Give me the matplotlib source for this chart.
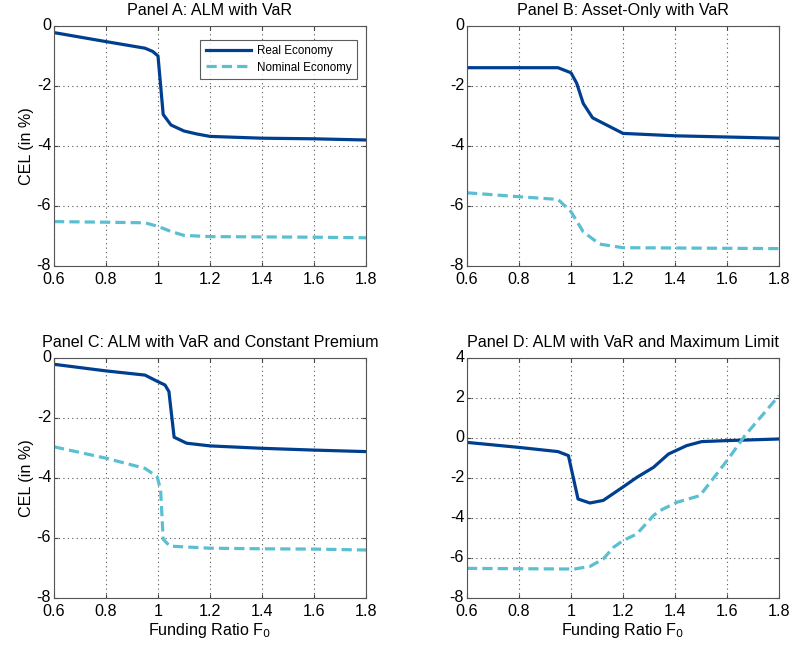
import matplotlib
matplotlib.use("Agg")
import matplotlib.pyplot as plt
import matplotlib.transforms as mtransforms

plt.rcParams["font.family"] = ["Liberation Sans", "DejaVu Sans"]

REAL_COLOR = "#003f8f"
NOM_COLOR = "#5bbfd2"

# Panel A: ALM with VaR
a_real_x = [0.6, 0.8, 0.95, 0.98, 1.0, 1.02, 1.05, 1.1, 1.15, 1.2, 1.4, 1.6, 1.8]
a_real_y = [-0.22, -0.52, -0.74, -0.85, -1.0, -2.95, -3.3, -3.5, -3.6, -3.68, -3.74, -3.76, -3.8]
a_nom_x = [0.6, 0.8, 0.95, 1.0, 1.05, 1.1, 1.2, 1.4, 1.6, 1.8]
a_nom_y = [-6.52, -6.54, -6.56, -6.68, -6.85, -6.98, -7.02, -7.03, -7.04, -7.06]

# Panel B: Asset-Only with VaR
b_real_x = [0.6, 0.8, 0.95, 1.0, 1.022, 1.047, 1.083, 1.2, 1.4, 1.6, 1.8]
b_real_y = [-1.39, -1.39, -1.39, -1.56, -1.91, -2.58, -3.06, -3.58, -3.66, -3.7, -3.74]
b_nom_x = [0.6, 0.8, 0.95, 1.0, 1.047, 1.11, 1.2, 1.4, 1.6, 1.8]
b_nom_y = [-5.56, -5.69, -5.78, -6.19, -6.86, -7.27, -7.39, -7.4, -7.41, -7.42]

# Panel C: ALM with VaR and Constant Premium
c_real_x = [0.6, 0.8, 0.95, 1.0, 1.027, 1.042, 1.062, 1.11, 1.2, 1.4, 1.6, 1.8]
c_real_y = [-0.21, -0.43, -0.57, -0.79, -0.9, -1.12, -2.64, -2.84, -2.93, -3.01, -3.07, -3.12]
c_nom_x = [0.6, 0.8, 0.95, 0.997, 1.01, 1.02, 1.045, 1.2, 1.4, 1.6, 1.8]
c_nom_y = [-2.96, -3.34, -3.68, -3.96, -4.4, -6.04, -6.27, -6.34, -6.36, -6.37, -6.4]

# Panel D: ALM with VaR and Maximum Limit
d_real_x = [0.6, 0.8, 0.95, 0.99, 1.027, 1.073, 1.124, 1.2, 1.253, 1.317, 1.375, 1.445, 1.503, 1.6, 1.8]
d_real_y = [-0.22, -0.47, -0.68, -0.88, -3.05, -3.25, -3.12, -2.45, -1.97, -1.47, -0.8, -0.38, -0.18, -0.13, -0.05]
d_nom_x = [0.6, 0.99, 1.0, 1.073, 1.124, 1.163, 1.2, 1.253, 1.317, 1.342, 1.406, 1.496, 1.6, 1.669, 1.8]
d_nom_y = [-6.52, -6.55, -6.58, -6.42, -6.05, -5.47, -5.13, -4.8, -3.88, -3.63, -3.22, -2.88, -1.13, 0.12, 2.12]

x_ticks = [0.6, 0.8, 1.0, 1.2, 1.4, 1.6, 1.8]
x_ticklabels = ["0.6", "0.8", "1", "1.2", "1.4", "1.6", "1.8"]

panels = [
    ("Panel A: ALM with VaR", a_real_x, a_real_y, a_nom_x, a_nom_y, [0, -2, -4, -6, -8], (-8, 0)),
    ("Panel B: Asset-Only with VaR", b_real_x, b_real_y, b_nom_x, b_nom_y, [0, -2, -4, -6, -8], (-8, 0)),
    ("Panel C: ALM with VaR and Constant Premium", c_real_x, c_real_y, c_nom_x, c_nom_y, [0, -2, -4, -6, -8], (-8, 0)),
    ("Panel D: ALM with VaR and Maximum Limit", d_real_x, d_real_y, d_nom_x, d_nom_y, [4, 2, 0, -2, -4, -6, -8], (-8, 4)),
]

W, H = 791, 652
fig = plt.figure(figsize=(W / 100, H / 100), dpi=100)
positions = [
    (54, 26), (467, 26),
    (54, 358), (467, 358),
]
aw, ah = 312, 240
FS = 11.6
lift = mtransforms.ScaledTranslation(0, 2 / 100, fig.dpi_scale_trans)

for i, (title, rx, ry, nx, ny, yt, ylim) in enumerate(panels):
    left, top = positions[i]
    ax = fig.add_axes([left / W, 1 - (top + ah) / H, aw / W, ah / H])
    ax.plot(rx, ry, color=REAL_COLOR, lw=2.3, solid_joinstyle="round", label="Real Economy")
    ax.plot(nx, ny, color=NOM_COLOR, lw=2.3, ls=(0, (3.2, 1.6)), label="Nominal Economy")
    ax.set_xlim(0.6, 1.8)
    ax.set_ylim(*ylim)
    ax.set_xticks(x_ticks)
    ax.set_xticklabels(x_ticklabels)
    ax.set_yticks(yt)
    ax.set_yticklabels([str(v) for v in yt])
    ax.grid(True, ls=(0, (1, 3)), color="#555555", lw=0.8)
    ax.tick_params(direction="in", length=3, labelsize=FS, top=True, right=True,
                   color="#444444")
    ax.tick_params(axis="x", pad=4)
    ax.tick_params(axis="y", pad=2)
    for lab in ax.get_yticklabels():
        lab.set_transform(lab.get_transform() + lift)
    for s in ax.spines.values():
        s.set_color("#555555")
        s.set_linewidth(0.8)
    ax.set_title(title, fontsize=FS, pad=8)
    if i % 2 == 0:
        ax.set_ylabel("CEL (in %)", fontsize=FS, labelpad=2)
    if i >= 2:
        ax.set_xlabel("Funding Ratio F$_0$", fontsize=FS, labelpad=2)
    if i == 0:
        leg = ax.legend(loc="upper right", fontsize=8.4, frameon=True, fancybox=False,
                        edgecolor="#333333", borderpad=0.45, handlelength=3.9,
                        labelspacing=0.35, handletextpad=0.5,
                        bbox_to_anchor=(0.99, 0.965))
        leg.get_frame().set_linewidth(0.8)

fig.savefig("out.png", dpi=100)
